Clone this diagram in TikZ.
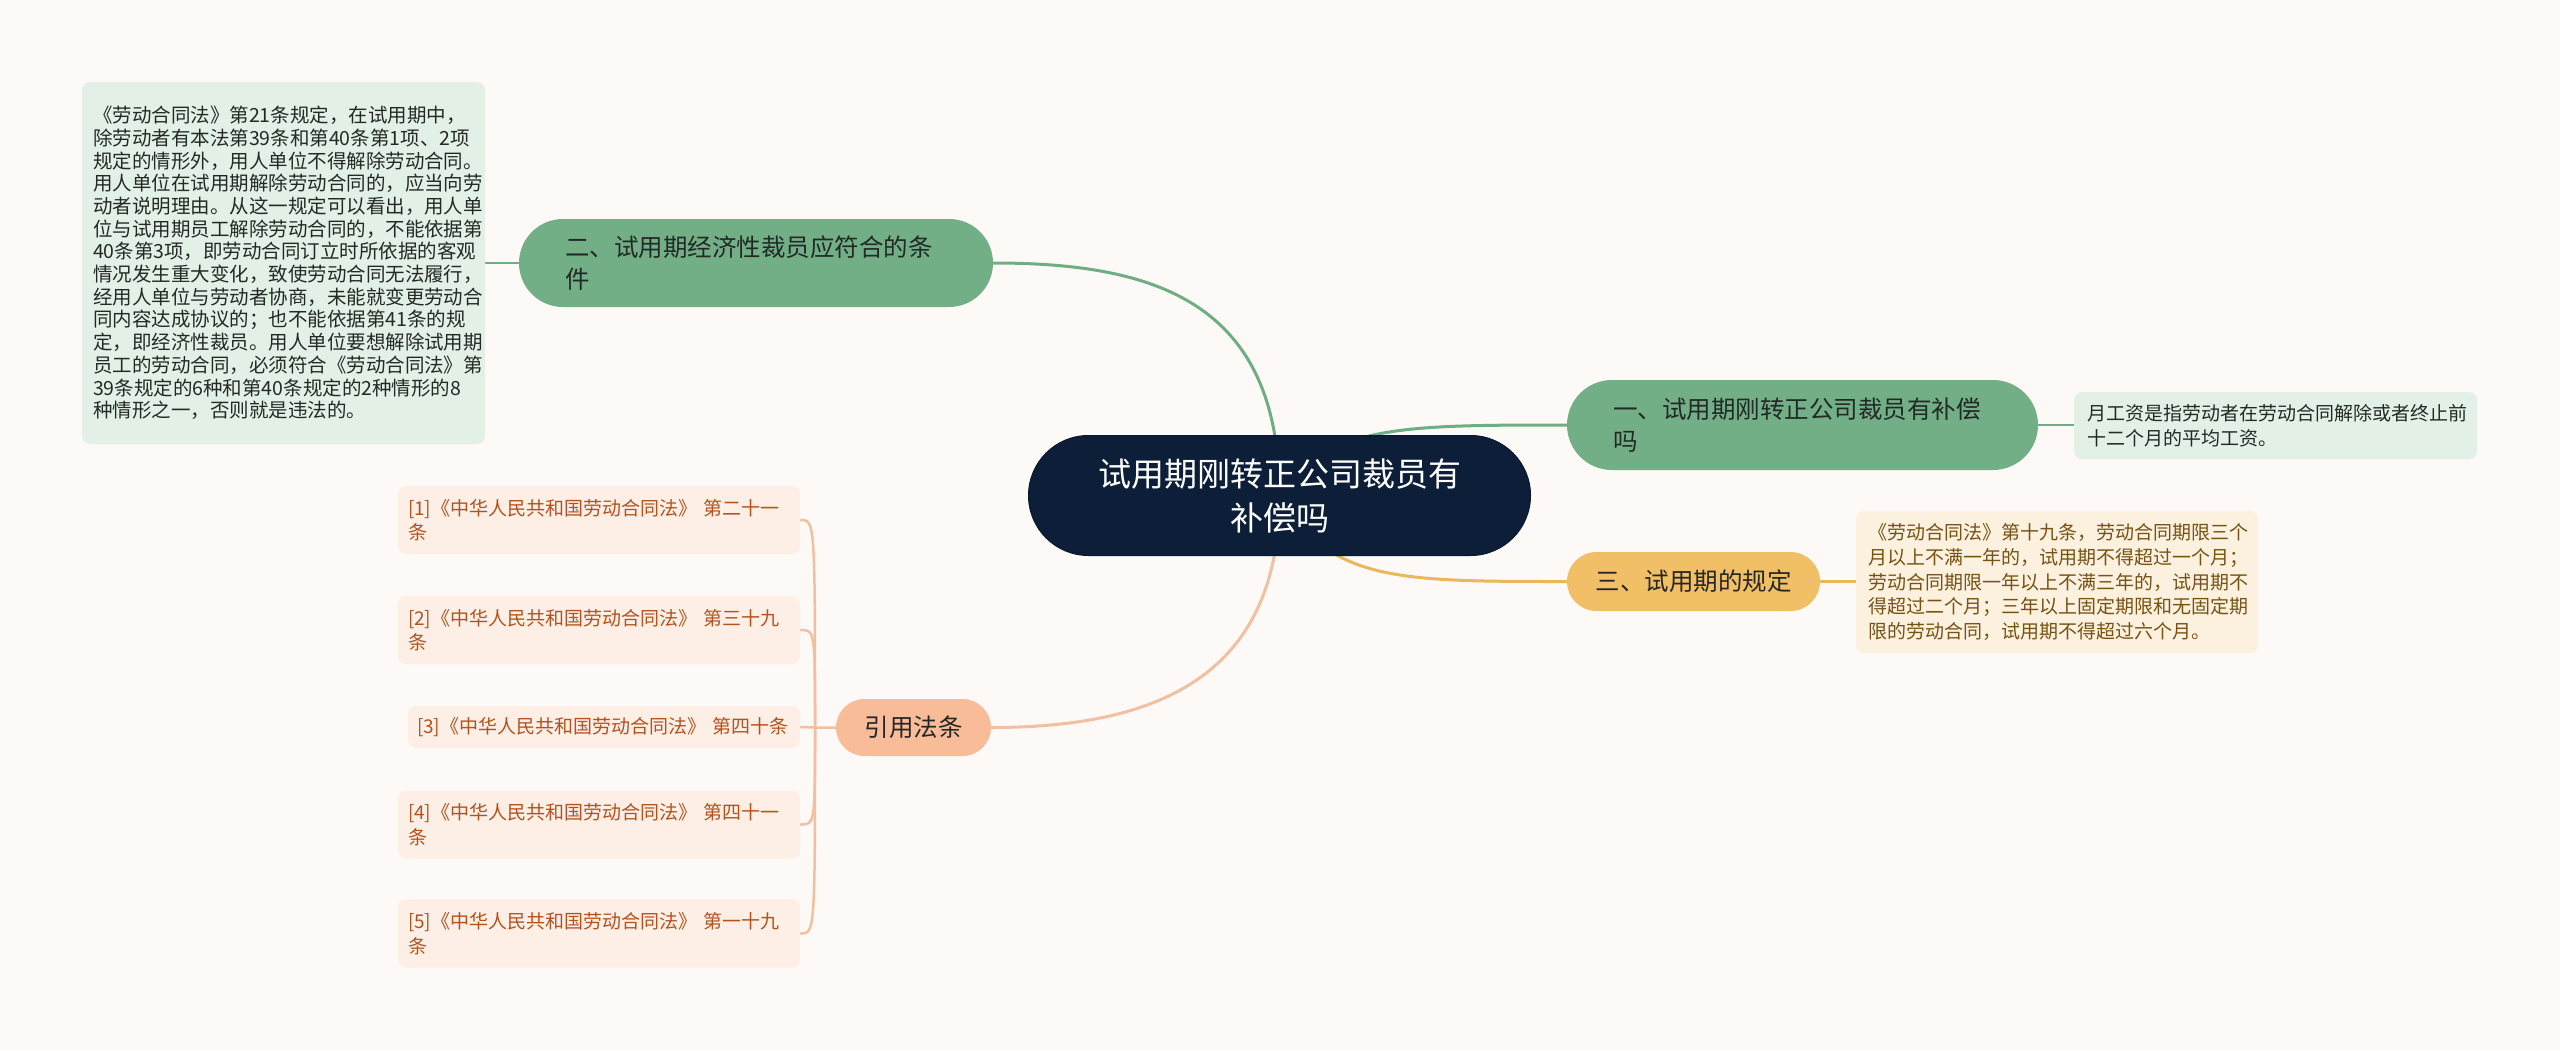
\documentclass[tikz,border=0pt]{standalone}
\usepackage{fontspec}
\setmainfont{Noto Sans CJK SC}
\usetikzlibrary{calc}
\definecolor{bgc}{HTML}{FCF9F7}
\definecolor{rootc}{HTML}{0C1E38}
\definecolor{greenc}{HTML}{72AF87}
\definecolor{greenl}{HTML}{6FAD84}
\definecolor{greend}{HTML}{E3F0E6}
\definecolor{goldc}{HTML}{F1BF65}
\definecolor{goldl}{HTML}{E8B85A}
\definecolor{goldd}{HTML}{FCF0DE}
\definecolor{goldt}{HTML}{765214}
\definecolor{salc}{HTML}{F8BC99}
\definecolor{sall}{HTML}{F2BFA1}
\definecolor{cited}{HTML}{FDEFE6}
\definecolor{citet}{HTML}{B3521C}
\definecolor{darkt}{HTML}{232A26}
\pgfdeclarelayer{paper}
\pgfdeclarelayer{back}
\pgfsetlayers{paper,back,main}
\tikzset{
  rootnode/.style={fill=rootc, draw=rootc!80!black, line width=1pt, rounded corners=60pt,
    minimum width=502pt, minimum height=120pt, inner sep=0pt, text=white,
    font=\fontsize{33}{44}\selectfont, align=center},
  topic/.style={rounded corners=#1, inner sep=0pt, text=darkt,
    font=\fontsize{24.5}{32}\selectfont},
  detail/.style={rounded corners=8pt, inner ysep=0pt,
    font=\fontsize{19}{24.6}\selectfont, align=left},
  mainline/.style={line width=3pt},
  subline/.style={line width=2.5pt},
}
\begin{document}
\begin{tikzpicture}[x=1pt,y=-1pt]
\begin{pgfonlayer}{paper}
\fill[bgc] (0,0) rectangle (2560,1050);
\end{pgfonlayer}
\useasboundingbox (0,0) rectangle (2560,1050);

% root
\node[rootnode] (root) at (1279.5,495.5) {试用期刚转正公司裁员有\\补偿吗};

% level-1 topics
\node[topic=44pt, fill=greenc, minimum width=474pt, minimum height=88pt,
  text width=382pt, align=left] (n2) at (756,263) {二、试用期经济性裁员应符合的条\\件};
\node[topic=45pt, fill=greenc, minimum width=471pt, minimum height=90pt,
  text width=379pt, align=left] (n1) at (1802.5,425) {一、试用期刚转正公司裁员有补偿\\吗};
\node[topic=29.5pt, fill=goldc, minimum width=253pt, minimum height=59pt,
  align=center, text=black!85] (n3) at (1693.5,581.5) {三、试用期的规定};
\node[topic=28.5pt, fill=salc, minimum width=155pt, minimum height=57pt,
  align=center, text=black!85] (ny) at (913.5,727.5) {引用法条};

% details
\node[detail, fill=greend, text=darkt, inner xsep=11pt, text width=381pt,
  minimum height=362pt, font=\fontsize{19.5}{22.7}\selectfont] (d2) at (283.5,263) {《劳动合同法》第21条规定，在试用期中，\\除劳动者有本法第39条和第40条第1项、2项\\规定的情形外，用人单位不得解除劳动合同。\\用人单位在试用期解除劳动合同的，应当向劳\\动者说明理由。从这一规定可以看出，用人单\\位与试用期员工解除劳动合同的，不能依据第\\40条第3项，即劳动合同订立时所依据的客观\\情况发生重大变化，致使劳动合同无法履行，\\经用人单位与劳动者协商，未能就变更劳动合\\同内容达成协议的；也不能依据第41条的规\\定，即经济性裁员。用人单位要想解除试用期\\员工的劳动合同，必须符合《劳动合同法》第\\39条规定的6种和第40条规定的2种情形的8\\种情形之一，否则就是违法的。};
\node[detail, fill=greend, text=darkt, inner xsep=13pt, text width=377pt,
  minimum height=67pt] (d1) at (2275.5,425.5) {月工资是指劳动者在劳动合同解除或者终止前\\十二个月的平均工资。};
\node[detail, fill=goldd, text=goldt, inner xsep=12pt, text width=378pt,
  minimum height=142pt] (d3) at (2057,582) {《劳动合同法》第十九条，劳动合同期限三个\\月以上不满一年的，试用期不得超过一个月；\\劳动合同期限一年以上不满三年的，试用期不\\得超过二个月；三年以上固定期限和无固定期\\限的劳动合同，试用期不得超过六个月。};

% citations
\node[detail, fill=cited, text=citet, inner xsep=10pt, text width=382pt,
  minimum height=68pt] (c1) at (599,520) {[1]《中华人民共和国劳动合同法》 第二十一\\条};
\node[detail, fill=cited, text=citet, inner xsep=10pt, text width=382pt,
  minimum height=68pt] (c2) at (599,630) {[2]《中华人民共和国劳动合同法》 第三十九\\条};
\node[detail, fill=cited, text=citet, inner xsep=9pt, text width=374pt,
  minimum height=42pt] (c3) at (604,727) {[3]《中华人民共和国劳动合同法》~第四十条};
\node[detail, fill=cited, text=citet, inner xsep=10pt, text width=382pt,
  minimum height=68pt] (c4) at (599,824.5) {[4]《中华人民共和国劳动合同法》 第四十一\\条};
\node[detail, fill=cited, text=citet, inner xsep=10pt, text width=382pt,
  minimum height=68pt] (c5) at (599,933.5) {[5]《中华人民共和国劳动合同法》 第一十九\\条};

\coordinate (jn) at (815,727.5);

\begin{pgfonlayer}{back}
% main branches
\draw[mainline, greenl] (root.center) .. controls +(0,-195) and +(160,0) .. (n2.east);
\draw[mainline, greenl] (root.center) .. controls +(50,-70) and +(-170,0) .. (n1.west);
\draw[mainline, goldl] (root.center) .. controls +(50,86) and +(-170,0) .. (n3.west);
\draw[mainline, sall] (root.center) .. controls +(0,185) and +(160,0) .. (ny.east);
% sub branches
\draw[subline, greenl] (n2.west) -- (d2.east |- n2.west);
\draw[subline, greenl] (n1.east) -- (d1.west |- n1.east);
\draw[subline, goldl] (n3.east) -- (d3.west |- n3.east);
\draw[subline, sall] (ny.west) -- (jn) -- (c3.east);
\foreach \c in {c1,c2,c4,c5}{
  \draw[subline, sall] (\c.east) .. controls (jn |- \c.east) and (jn |- \c.east) .. (jn);
}
\end{pgfonlayer}
\end{tikzpicture}
\end{document}
